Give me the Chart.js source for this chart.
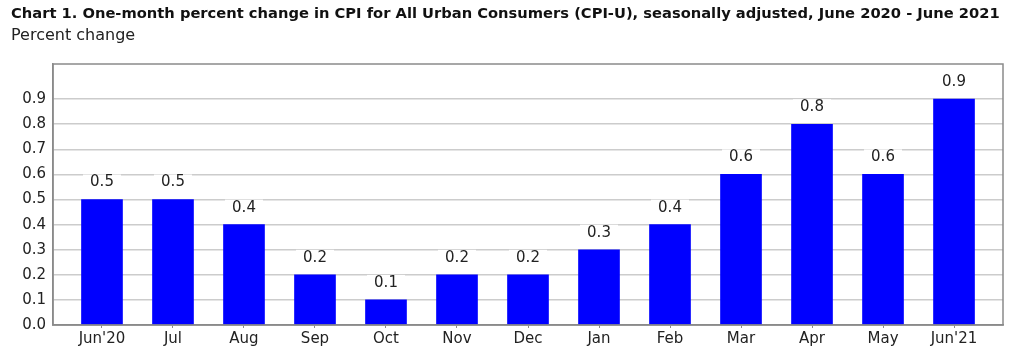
<!DOCTYPE html>
<html>
<head>
<meta charset="utf-8">
<script src="https://cdn.jsdelivr.net/npm/chart.js@4.4.0/dist/chart.umd.min.js"></script>
<style>
  html, body { margin: 0; padding: 0; background: #fff; }
  #wrap { position: relative; width: 1024px; height: 361px; overflow: hidden; }
  #title { position: absolute; left: 11px; top: 4px; font: bold 14.7px "DejaVu Sans", sans-serif; color: #111; white-space: nowrap; }
  #subtitle { position: absolute; left: 11px; top: 25px; font: 16px "DejaVu Sans", sans-serif; color: #222; white-space: nowrap; }
  canvas { position: absolute; left: 0; top: 0; }
</style>
</head>
<body>
<div id="wrap">
  <canvas id="c" width="1024" height="361"></canvas>
  <div id="title">Chart 1. One-month percent change in CPI for All Urban Consumers (CPI-U), seasonally adjusted, June 2020 - June 2021</div>
  <div id="subtitle">Percent change</div>
</div>
<script>
const categories = ["Jun'20","Jul","Aug","Sep","Oct","Nov","Dec","Jan","Feb","Mar","Apr","May","Jun'21"];
const values = [0.5, 0.5, 0.4, 0.2, 0.1, 0.2, 0.2, 0.3, 0.4, 0.6, 0.8, 0.6, 0.9];
const yTicks = [0.0, 0.1, 0.2, 0.3, 0.4, 0.5, 0.6, 0.7, 0.8, 0.9];

const points = values.map((v, i) => ({ x: i, y: v }));
const FONT = '"DejaVu Sans", sans-serif';

const borderPlugin = {
  id: 'plotBorder',
  afterDraw(chart) {
    const a = chart.chartArea, ctx = chart.ctx;
    ctx.save();
    ctx.strokeStyle = '#8a8a8a';
    ctx.lineWidth = 1.5;
    ctx.strokeRect(a.left, a.top, a.right - a.left, a.bottom - a.top);
    ctx.restore();
  }
};

const labelPlugin = {
  id: 'barLabels',
  afterDatasetsDraw(chart) {
    const ctx = chart.ctx;
    const meta = chart.getDatasetMeta(0);
    ctx.save();
    ctx.font = '15px ' + FONT;
    ctx.textAlign = 'center';
    ctx.textBaseline = 'middle';
    meta.data.forEach((bar, i) => {
      const cy = bar.y - 17;
      ctx.fillStyle = '#fff';
      ctx.fillRect(bar.x - 19, cy - 8, 38, 16);
      ctx.fillStyle = '#222';
      ctx.fillText(values[i].toFixed(1), bar.x, cy);
    });
    ctx.restore();
  }
};

new Chart(document.getElementById('c'), {
  type: 'bar',
  data: {
    datasets: [{
      data: points,
      backgroundColor: '#0000ff',
      borderWidth: 0,
      barThickness: 41
    }]
  },
  plugins: [borderPlugin, labelPlugin],
  options: {
    responsive: false,
    animation: false,
    events: [],
    layout: { padding: { top: 64, right: 21, left: 0, bottom: 0 } },
    plugins: { legend: { display: false }, tooltip: { enabled: false }, title: { display: false } },
    scales: {
      x: {
        type: 'linear',
        offset: false,
        min: -0.69,
        max: 12.69,
        afterBuildTicks(scale) { scale.ticks = categories.map((c, i) => ({ value: i })); },
        afterFit(scale) { scale.height = 36; },
        grid: { offset: false, drawOnChartArea: false, drawTicks: true, tickLength: 3, color: '#8a8a8a' },
        border: { display: true, color: '#8a8a8a', width: 1.5 },
        ticks: {
          autoSkip: false,
          maxRotation: 0,
          padding: 2,
          color: '#222',
          font: { family: FONT, size: 15 },
          callback: (v) => categories[v]
        }
      },
      y: {
        min: 0,
        max: 1.04,
        afterBuildTicks(scale) { scale.ticks = yTicks.map(v => ({ value: v })); },
        afterFit(scale) { scale.width = 53; },
        grid: { color: '#cccccc', lineWidth: 1.5, drawTicks: false },
        border: { display: true, color: '#8a8a8a', width: 1.5 },
        ticks: {
          padding: 7,
          color: '#222',
          font: { family: FONT, size: 15 },
          callback: (v) => Number(v).toFixed(1)
        }
      }
    }
  }
});
</script>
</body>
</html>
